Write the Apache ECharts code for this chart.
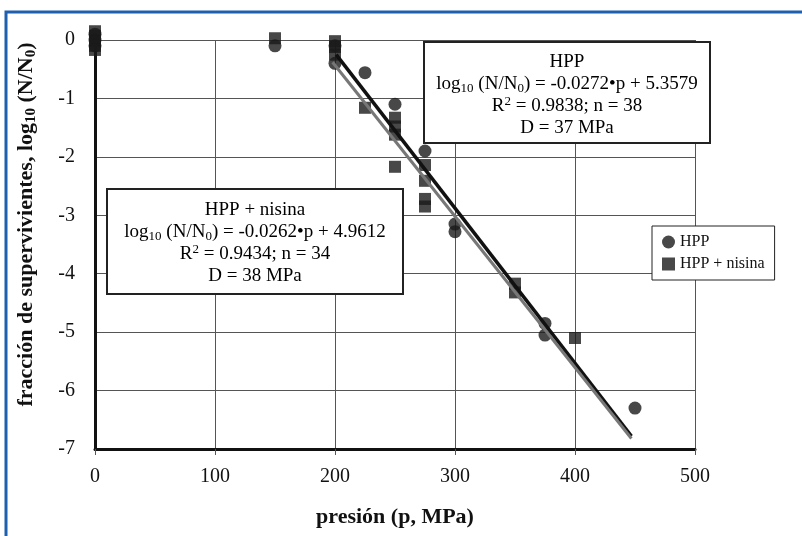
<!DOCTYPE html>
<html>
<head>
<meta charset="utf-8">
<script src="https://cdn.jsdelivr.net/npm/echarts@6/dist/echarts.min.js"></script>
<style>
  html, body { margin: 0; padding: 0; background: #fff; }
  #chart { width: 802px; height: 536px; }
</style>
</head>
<body>
<div id="chart"></div>
<script>
const serif = "'Liberation Serif', 'Times New Roman', serif";

// HPP (circles)
const hppP   = [0, 0, 0, 150, 200, 200, 225, 250, 275, 300, 300, 375, 375, 450];
const hppLog = [0.1, 0, -0.1, -0.1, -0.4, -0.1, -0.56, -1.1, -1.9, -3.15, -3.28, -4.85, -5.05, -6.3];

// HPP + nisina (squares)
const nisP   = [0, 0, 0, 0, 0, 150, 200, 200, 200, 225, 250, 250, 250, 250, 275, 275, 275, 275, 350, 350, 400];
const nisLog = [0.15, 0.07, -0.02, -0.1, -0.17, 0.03, -0.02, -0.12, -0.25, -1.16, -1.33, -1.48, -1.62, -2.17,
                -2.14, -2.41, -2.72, -2.85, -4.17, -4.32, -5.1];

// trend lines (end points)
const hppFitP   = [201, 447];
const hppFitLog = [-0.25, -6.78];
const nisFitP   = [198, 447];
const nisFitLog = [-0.38, -6.82];

const zip = (a, b) => a.map((v, i) => [v, b[i]]);

var myChart = echarts.init(document.getElementById("chart"));

const boxRich = {
  n: { fontFamily: serif, fontSize: 19, color: "#111", lineHeight: 22 },
  s: { fontFamily: serif, fontSize: 13, color: "#111", verticalAlign: "bottom", lineHeight: 12 },
  p: { fontFamily: serif, fontSize: 13, color: "#111", verticalAlign: "top", lineHeight: 12 },
};

var option = {
  animation: false,
  grid: { left: 95, right: 107, top: 40, bottom: 87 },
  xAxis: {
    type: "value",
    min: 0,
    max: 500,
    interval: 100,
    name: "presión (p, MPa)",
    nameLocation: "middle",
    nameGap: 57,
    nameTextStyle: { fontFamily: serif, fontWeight: "bold", fontSize: 22, color: "#111" },
    axisLine: { onZero: false, lineStyle: { color: "#111", width: 3 } },
    axisTick: { show: true, length: 6, lineStyle: { color: "#555" } },
    axisLabel: { fontFamily: serif, fontSize: 20, color: "#111", margin: 18 },
    splitLine: { lineStyle: { color: "#555", width: 1 } },
  },
  yAxis: {
    type: "value",
    min: -7,
    max: 0,
    interval: 1,
    name: "{b|fracción de supervivientes, log}{bs|10}{b| (N/N}{bs|0}{b|)}",
    nameLocation: "middle",
    nameRotate: 90,
    nameGap: 56,
    nameTextStyle: {
      padding: [0, 0, 0, 40],
      rich: {
        b: { fontFamily: serif, fontWeight: "bold", fontSize: 22, color: "#111", lineHeight: 26 },
        bs: { fontFamily: serif, fontWeight: "bold", fontSize: 15, color: "#111", verticalAlign: "bottom", lineHeight: 15 },
      },
    },
    axisLine: { lineStyle: { color: "#111", width: 3 } },
    axisTick: { show: false },
    axisLabel: { fontFamily: serif, fontSize: 20, color: "#111", margin: 20 },
    splitLine: { lineStyle: { color: "#555", width: 1 } },
  },
  legend: {
    orient: "vertical",
    left: 652,
    top: 226,
    backgroundColor: "#fff",
    borderColor: "#222",
    borderWidth: 1,
    borderRadius: 0,
    padding: [8, 10, 8, 10],
    itemGap: 6,
    itemWidth: 13,
    itemHeight: 13,
    textStyle: { fontFamily: serif, fontSize: 16, color: "#111" },
    data: [
      { name: "HPP", icon: "circle" },
      { name: "HPP + nisina", icon: "rect" },
    ],
  },
  graphic: [
    {
      type: "rect",
      silent: true,
      z: -10,
      shape: { x: 6, y: 12, width: 900, height: 700 },
      style: { fill: "none", stroke: "#1f5fb0", lineWidth: 3 },
    },
    {
      type: "rect",
      z: 10,
      shape: { x: 424, y: 42, width: 286, height: 101 },
      style: { fill: "#fff", stroke: "#222", lineWidth: 2 },
    },
    {
      type: "text",
      z: 11,
      x: 567,
      y: 51,
      style: {
        text: "{n|HPP}\n{n|log}{s|10}{n| (N/N}{s|0}{n|) = -0.0272•p + 5.3579}\n{n|R}{p|2}{n| = 0.9838; n = 38}\n{n|D = 37 MPa}",
        rich: boxRich,
        align: "center",
        verticalAlign: "top",
      },
    },
    {
      type: "rect",
      z: 10,
      shape: { x: 107, y: 189, width: 296, height: 105 },
      style: { fill: "#fff", stroke: "#222", lineWidth: 2 },
    },
    {
      type: "text",
      z: 11,
      x: 255,
      y: 199,
      style: {
        text: "{n|HPP + nisina}\n{n|log}{s|10}{n| (N/N}{s|0}{n|) = -0.0262•p + 4.9612}\n{n|R}{p|2}{n| = 0.9434; n = 34}\n{n|D = 38 MPa}",
        rich: boxRich,
        align: "center",
        verticalAlign: "top",
      },
    },
  ],
  series: [
    {
      name: "HPP",
      type: "scatter",
      symbol: "circle",
      symbolSize: 13,
      clip: false,
      itemStyle: { color: "#1a1a1a" },
      data: zip(hppP, hppLog),
    },
    {
      name: "HPP + nisina",
      type: "scatter",
      symbol: "rect",
      symbolSize: 12,
      clip: false,
      itemStyle: { color: "#1a1a1a" },
      data: zip(nisP, nisLog),
    },
    {
      name: "HPP fit",
      type: "line",
      symbol: "none",
      silent: true,
      z: 4,
      lineStyle: { color: "#111", width: 3.5 },
      data: zip(hppFitP, hppFitLog),
    },
    {
      name: "nisina fit",
      type: "line",
      symbol: "none",
      silent: true,
      z: 5,
      lineStyle: { color: "#777", width: 3 },
      data: zip(nisFitP, nisFitLog),
    },
  ],
};

option && myChart.setOption(option);
</script>
</body>
</html>
